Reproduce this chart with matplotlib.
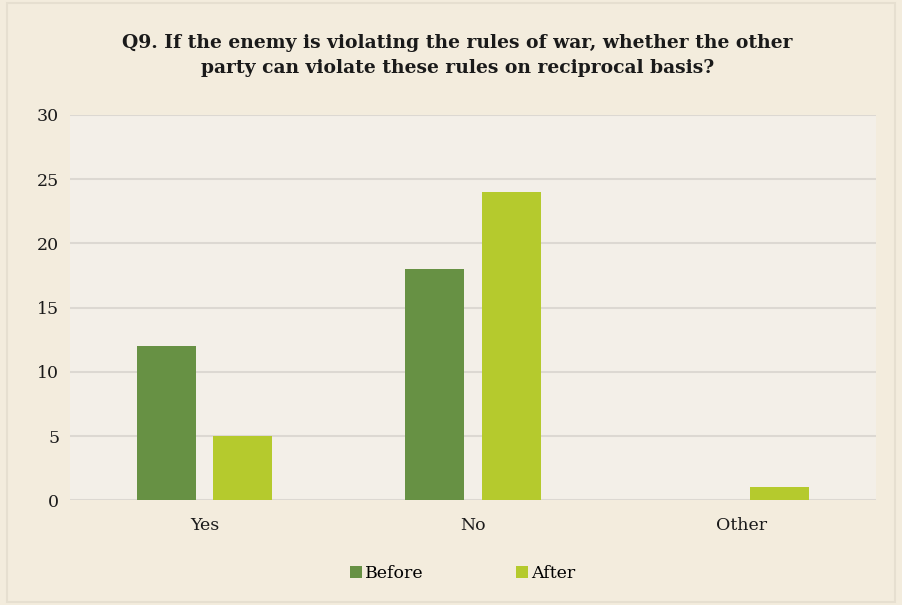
import numpy as np
import matplotlib.pyplot as plt
from matplotlib.patches import Rectangle

categories = ["Yes", "No", "Other"]
before = [12, 18, 0]
after = [5, 24, 1]
yticks = [0, 5, 10, 15, 20, 25, 30]

plt.rcParams['font.family'] = ['DejaVu Serif']

fig = plt.figure(figsize=(9.02, 6.05), dpi=100)
fig.patch.set_facecolor('#f3ecdd')
# thin outer frame
fig.patches.append(Rectangle((0.008, 0.005), 0.984, 0.99, transform=fig.transFigure,
                             fill=False, edgecolor='#e6dfd0', linewidth=1.5))

ax = fig.add_axes([0.078, 0.173, 0.893, 0.637])
ax.set_facecolor('#f3efe8')

x = np.arange(len(categories))
w = 0.22
gap = 0.065
ax.bar(x - (w + gap) / 2, before, w, color='#679144', label='Before', zorder=3)
ax.bar(x + (w + gap) / 2, after, w, color='#b5ca2d', label='After', zorder=3)

ax.set_xlim(-0.5, 2.5)
ax.set_ylim(0, 30)
ax.set_yticks(yticks)
ax.set_xticks(x)
ax.set_xticklabels(categories)
ax.yaxis.grid(True, color='#dcd8d2', linewidth=1.5, zorder=0)
ax.tick_params(axis='both', length=0, labelsize=12.5, colors='#1a1a1a')
ax.tick_params(axis='y', pad=8)
ax.tick_params(axis='x', pad=12)
for s in ax.spines.values():
    s.set_visible(False)

fig.suptitle("Q9. If the enemy is violating the rules of war, whether the other\n"
             "party can violate these rules on reciprocal basis?",
             x=0.507, y=0.943, fontsize=13.5, fontweight='bold', color='#1a1a1a',
             linespacing=1.5)

leg = fig.legend(loc='center', bbox_to_anchor=(0.513, 0.052), ncol=2, frameon=False,
                 fontsize=12.5, handlelength=0.7, handleheight=0.7, handletextpad=0.2,
                 columnspacing=5.3)

plt.savefig('out.png', dpi=100, facecolor=fig.get_facecolor())
